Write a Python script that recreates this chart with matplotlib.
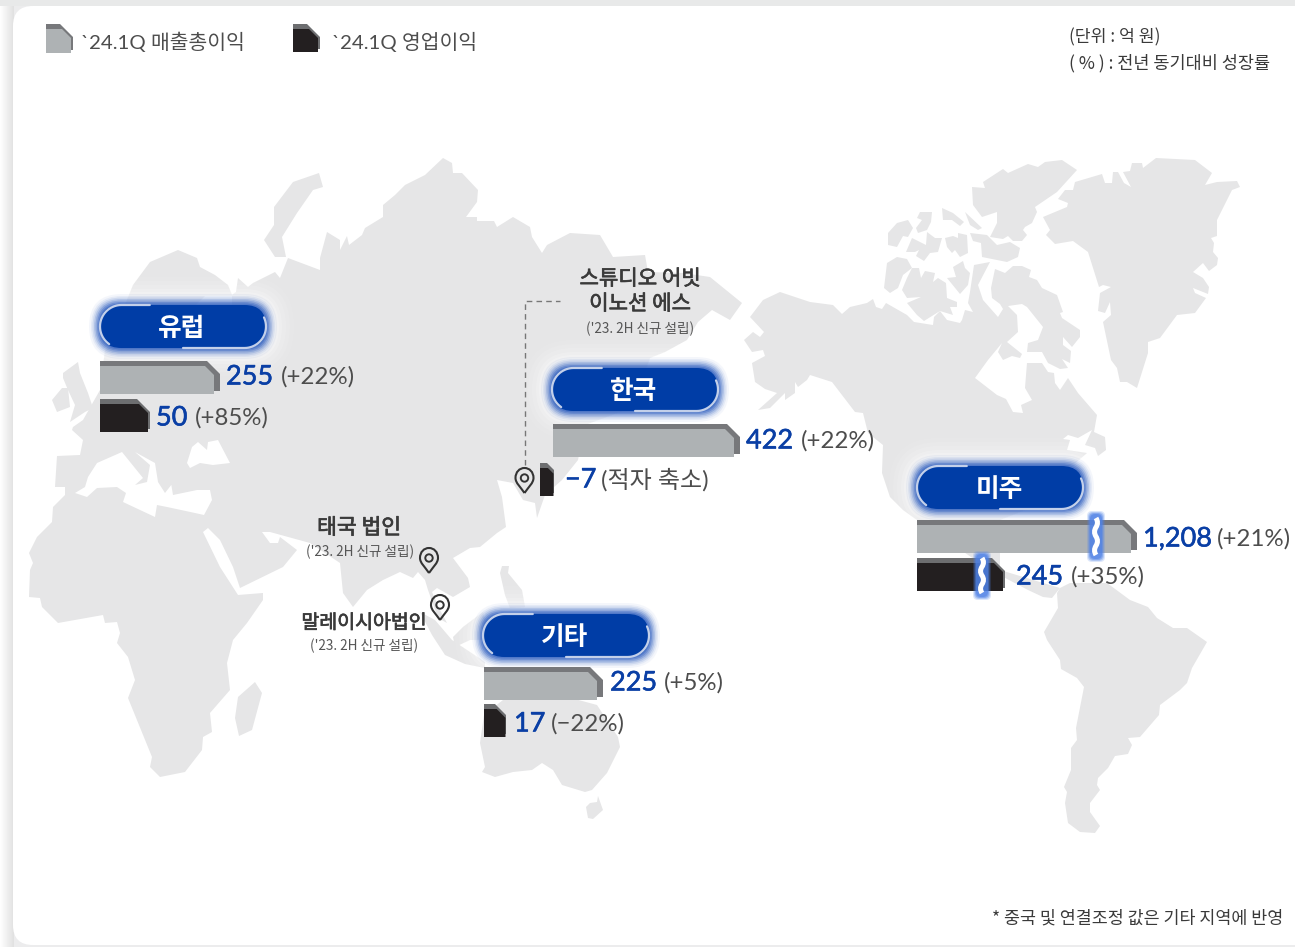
import numpy as np
import matplotlib
matplotlib.use('Agg')
import matplotlib.pyplot as plt
import matplotlib.patheffects as pe
from matplotlib.patches import FancyBboxPatch, Polygon, PathPatch, Rectangle
from matplotlib.path import Path

plt.rcParams['font.family'] = ['Noto Sans CJK KR', 'DejaVu Sans']

# ==========================================
# DATOS
# ==========================================
regions = ['유럽', '한국', '미주', '기타']
gross_profit = ['255', '422', '1,208', '225']
gross_growth = ['(+22%)', '(+22%)', '(+21%)', '(+5%)']
op_profit = ['50', '−7', '245', '17']
op_growth = ['(+85%)', '(적자 축소)', '(+35%)', '(−22%)']

# the bars in the source are not to scale (미주 is cut), lengths are read in pixels
gross_len = [120, 187, 220, 119]
op_len = [50, 14, 88, 22]

pill_x = [100, 552, 917, 483]
pill_y = [305, 368, 466, 614]
gross_bar_xy = [(100, 361), (553, 424), (917, 520), (484, 667)]
op_bar_xy = [(100, 399), (540, 463), (917, 558), (484, 704)]
gross_val_x = [226, 746, 1143, 610]
gross_pct_x = [281, 801, 1217, 664]
op_val_x = [156, 565, 1016, 514]
op_pct_x = [195, 601, 1071, 551]
gross_text_y = [376, 440, 538, 682]
op_text_y = [417, 479, 576, 723]

# ==========================================
# MAPA (contornos en pixeles)
# ==========================================
eurasia_africa = [
    (133, 285), (150, 262), (178, 250), (197, 258), (200, 267), (215, 275), (228, 285), (232, 295),
    (236, 292), (238, 278), (248, 287), (253, 283), (275, 272), (280, 278), (288, 258), (320, 270),
    (320, 258), (327, 232), (340, 240), (340, 250), (347, 236), (349, 245), (362, 235), (365, 228),
    (383, 217), (383, 205), (395, 195), (405, 185), (425, 175), (443, 158), (452, 163), (453, 173),
    (462, 173), (478, 190), (477, 202), (466, 217), (477, 217), (477, 221), (494, 221), (497, 227),
    (513, 217), (530, 227), (532, 237), (542, 253), (547, 245), (570, 233), (600, 235), (613, 257),
    (645, 255), (648, 272), (683, 273), (710, 277), (742, 303), (730, 320), (712, 310), (698, 322),
    (687, 340), (665, 352), (650, 358), (640, 385), (625, 410), (585, 425), (578, 460), (562, 480),
    (545, 495), (537, 518), (535, 503), (523, 500), (513, 483), (497, 480), (502, 497), (506, 527),
    (497, 533), (480, 547), (470, 548), (453, 558), (462, 570), (468, 578), (470, 587), (453, 597),
    (437, 588), (432, 592), (440, 610), (447, 623), (438, 618), (428, 590), (425, 580), (418, 572),
    (413, 578), (400, 572), (383, 580), (367, 590), (353, 607), (343, 593), (340, 563), (310, 543),
    (270, 532), (262, 532), (270, 543), (278, 543), (280, 537), (297, 550), (283, 567), (240, 588),
    (233, 567), (220, 540), (208, 528), (203, 532), (220, 567), (238, 595), (263, 593), (263, 600),
    (247, 623), (233, 640), (227, 663), (230, 690), (210, 713), (212, 732), (203, 737), (202, 750),
    (185, 772), (160, 777), (150, 767), (152, 757), (128, 698), (135, 680), (128, 657), (117, 643),
    (120, 633), (117, 622), (105, 623), (103, 615), (58, 623), (42, 607), (40, 598), (29, 597),
    (30, 570), (33, 563), (29, 553), (37, 537), (52, 522), (53, 507), (65, 495), (75, 493),
    (87, 497), (97, 488), (117, 487), (126, 493), (123, 502), (155, 517), (157, 505), (167, 507),
    (195, 513), (204, 515), (212, 500), (210, 490), (197, 490), (173, 495), (170, 477), (177, 472),
    (172, 484), (165, 493), (158, 482), (155, 463), (135, 452), (150, 465), (147, 482), (135, 485),
    (143, 478), (122, 452), (97, 463), (88, 477), (85, 487), (75, 493), (65, 495), (65, 487),
    (55, 487), (57, 456), (80, 455), (83, 440), (72, 430), (73, 427), (83, 420), (100, 390),
    (105, 350), (118, 340), (125, 305),
]
black_sea = [(187, 463), (192, 447), (198, 442), (207, 450), (208, 442), (218, 440), (230, 463), (213, 465),
             (200, 463), (190, 468)]
baltic = [(205, 296), (232, 296), (232, 310), (200, 330), (190, 310)]
britain = [(63, 378), (63, 373), (78, 362), (80, 373), (88, 393), (93, 408), (85, 412), (70, 422), (75, 405), (68, 390)]
ireland = [(52, 400), (62, 388), (68, 388), (70, 407), (57, 412)]
novaya = [(293, 182), (319, 173), (323, 187), (313, 190), (297, 213), (282, 237), (286, 257), (275, 257),
          (264, 240), (274, 225), (274, 207)]
madagascar = [(238, 697), (255, 682), (262, 693), (252, 730), (239, 736), (235, 718)]
sumatra = [(420, 612), (435, 620), (452, 640), (470, 652), (485, 662), (485, 668), (465, 664), (445, 655), (432, 635)]
borneo = [(463, 627), (483, 612), (490, 640), (470, 640), (455, 647), (453, 637)]
philippines = [(500, 573), (502, 566), (509, 566), (508, 573), (522, 590), (525, 607), (510, 608), (505, 595)]
australia = [(480, 743), (485, 767), (482, 772), (495, 777), (513, 772), (532, 770), (542, 763), (553, 770),
             (562, 785), (585, 792), (592, 790), (607, 773), (620, 747), (618, 737), (597, 705), (560, 695),
             (503, 700), (484, 715)]
tasmania = [(586, 807), (590, 803), (597, 802), (598, 796), (603, 810), (593, 819), (588, 818)]
north_america = [
    (750, 317), (763, 300), (780, 292), (810, 302), (833, 305), (842, 314), (850, 307), (867, 303),
    (873, 299), (876, 307), (882, 309), (886, 303), (907, 315), (914, 322), (933, 325), (934, 317),
    (940, 311), (947, 320), (960, 323), (962, 320), (965, 310), (973, 312), (968, 303), (970, 292),
    (974, 265), (990, 262), (978, 285), (983, 300), (998, 317), (1003, 309), (1000, 304), (992, 298),
    (991, 288), (995, 269), (1005, 273), (1013, 266), (1022, 266), (1031, 270), (1029, 277), (1037, 280),
    (1042, 288), (1057, 295), (1063, 312), (1060, 313), (1062, 318), (1080, 330), (1080, 337), (1072, 347),
    (1063, 337), (1063, 345), (1071, 351), (1070, 363), (1062, 359), (1068, 368), (1060, 369), (1048, 363),
    (1042, 352), (1027, 352), (1028, 343), (1038, 340), (1043, 327), (1027, 307), (1022, 304), (1008, 306),
    (1017, 315), (1018, 332), (1007, 342), (1022, 354), (1020, 358), (1012, 356), (1003, 360), (998, 352),
    (1002, 343), (988, 360), (975, 378), (997, 395), (1006, 399), (1013, 412), (1023, 413), (1021, 405),
    (1032, 400), (1025, 388), (1027, 363), (1042, 363), (1048, 372), (1054, 373), (1055, 383), (1060, 390),
    (1068, 378), (1078, 393), (1097, 415), (1094, 432), (1105, 437), (1106, 450), (1098, 456), (1095, 448),
    (1085, 445), (1092, 430), (1078, 438), (1068, 435), (1063, 439), (1070, 440), (1067, 450), (1087, 453),
    (1073, 465), (1068, 468), (1063, 465), (1067, 458), (1062, 470), (1050, 500), (1000, 520), (1000, 570),
    (1010, 573), (1060, 588), (1052, 598), (1043, 597), (1028, 590), (990, 570), (917, 520), (903, 510),
    (890, 497), (882, 473), (883, 445), (868, 433), (863, 413), (855, 412), (832, 382), (810, 375),
    (807, 380), (798, 387), (795, 382), (795, 393), (785, 400), (785, 393), (770, 408), (758, 410),
    (777, 393), (765, 389), (755, 382), (752, 363), (765, 356), (763, 350), (752, 352), (744, 340),
    (753, 332), (760, 337), (764, 332),
]
ellesmere = [(972, 187), (985, 188), (983, 182), (1003, 169), (1008, 173), (1028, 164), (1038, 167), (1045, 162),
             (1062, 160), (1077, 170), (1057, 192), (1035, 207), (1037, 212), (1032, 223), (1025, 227), (1023, 230),
             (1027, 235), (1022, 241), (1013, 241), (1008, 236), (1003, 239), (990, 237), (997, 223), (997, 212),
             (982, 217), (973, 205)]
devon = [(970, 233), (987, 235), (990, 238), (997, 245), (1010, 242), (1020, 248), (1018, 257), (1007, 262),
         (987, 258), (982, 257), (981, 243), (973, 241)]
isl_a = [(965, 212), (982, 228), (978, 230), (970, 225)]
isl_b = [(942, 208), (953, 213), (964, 222), (960, 226), (952, 220), (943, 220)]
isl_c = [(917, 218), (920, 212), (932, 212), (931, 222), (927, 230), (918, 233), (916, 228), (922, 220)]
isl_d = [(888, 233), (897, 223), (908, 220), (913, 228), (908, 237), (903, 236), (897, 247), (888, 245)]
isl_e = [(912, 238), (926, 245), (927, 232), (935, 238), (942, 238), (938, 252), (930, 253), (924, 261),
         (916, 256), (919, 250), (915, 252), (906, 252)]
isl_f = [(945, 238), (953, 236), (958, 238), (958, 233), (967, 235), (968, 253), (960, 257), (955, 250),
         (952, 253), (947, 247)]
isl_g = [(887, 263), (897, 257), (907, 259), (912, 268), (903, 275), (898, 288), (890, 293), (884, 288)]
victoria = [(907, 278), (912, 268), (919, 268), (921, 278), (925, 271), (935, 273), (933, 282), (938, 278),
            (946, 283), (947, 298), (957, 302), (957, 307), (950, 307), (953, 315), (940, 311), (924, 321),
            (917, 315), (907, 303), (921, 297), (907, 298), (902, 290)]
isl_h = [(953, 267), (963, 261), (965, 268), (970, 273), (968, 285), (960, 294), (947, 278), (956, 277)]
greenland = [(1043, 217), (1067, 207), (1068, 203), (1058, 199), (1065, 190), (1073, 190), (1075, 182), (1102, 174),
             (1105, 183), (1112, 183), (1113, 172), (1118, 172), (1124, 183), (1131, 187), (1123, 172), (1130, 171),
             (1132, 163), (1142, 163), (1143, 168), (1156, 158), (1195, 160), (1212, 173), (1205, 185), (1217, 182),
             (1237, 181), (1240, 187), (1232, 190), (1217, 220), (1217, 236), (1211, 238), (1214, 243), (1213, 252),
             (1218, 258), (1217, 265), (1209, 271), (1203, 263), (1193, 272), (1203, 278), (1209, 287), (1208, 294),
             (1193, 288), (1195, 293), (1206, 298), (1195, 313), (1177, 315), (1160, 338), (1148, 342), (1148, 353),
             (1137, 388), (1127, 382), (1120, 382), (1117, 368), (1111, 360), (1103, 322), (1111, 315), (1110, 302),
             (1105, 313), (1098, 311), (1100, 293), (1111, 287), (1103, 285), (1099, 287), (1088, 252), (1073, 241),
             (1055, 244), (1046, 235), (1050, 230)]
south_america = [(1060, 588), (1070, 583), (1107, 583), (1130, 600), (1148, 607), (1157, 618), (1173, 628), (1187, 628),
                 (1207, 642), (1192, 668), (1187, 683), (1180, 690), (1160, 705), (1159, 715), (1140, 737), (1128, 738),
                 (1132, 745), (1128, 754), (1115, 756), (1108, 768), (1098, 778), (1097, 785), (1100, 790), (1090, 803),
                 (1090, 812), (1100, 826), (1095, 833), (1080, 832), (1068, 823), (1065, 803), (1067, 792), (1064, 787),
                 (1071, 770), (1071, 748), (1077, 740), (1076, 728), (1084, 687), (1077, 678), (1061, 669), (1060, 660),
                 (1047, 640), (1044, 632), (1058, 608), (1057, 593)]

land = [eurasia_africa, britain, ireland, novaya, madagascar, sumatra, borneo, philippines, australia, tasmania,
        north_america, ellesmere, devon, isl_a, isl_b, isl_c, isl_d, isl_e, isl_f, isl_g, victoria, isl_h,
        greenland, south_america]
water = [black_sea, baltic]

LAND = '#e6e6e7'
BLUE = '#003da6'
VALUE_BLUE = '#0a3fa5'
TEXT = '#3a3a3a'
SOFT = '#4d4d4d'
LATIN = ['Lato', 'Noto Sans CJK KR']
THICK = [pe.withStroke(linewidth=0.5, foreground=TEXT)]
THICK_BLUE = [pe.withStroke(linewidth=0.4, foreground=VALUE_BLUE)]

# ==========================================
# FIGURA
# ==========================================
fig = plt.figure(figsize=(12.95, 9.47), dpi=100, facecolor='#ececed')
ax = fig.add_axes([0, 0, 1, 1])

# sombra del lado izquierdo y tarjeta blanca
shade = np.linspace(1.0, 0.88, 64).reshape(1, -1)
ax.imshow(shade, extent=(0, 14, 947, 0), cmap='gray', vmin=0, vmax=1, aspect='auto', zorder=0)
ax.add_patch(Rectangle((0, 0), 1295, 6, fc='#e8e9e9', ec='none', zorder=0.5))
ax.set_xlim(0, 1295)
ax.set_ylim(947, 0)
ax.axis('off')
ax.add_patch(FancyBboxPatch((13 + 20, 6 + 20), 1400, 899, boxstyle='round,pad=20,rounding_size=20',
                            fc='white', ec='none', zorder=1))

for poly in land:
    ax.add_patch(Polygon(poly, closed=True, fc=LAND, ec='none', zorder=2))
for poly in water:
    ax.add_patch(Polygon(poly, closed=True, fc='white', ec='none', zorder=2.1))


def rounded(x, y, w, h, pad, **kw):
    r = h / 2 + pad
    return FancyBboxPatch((x + h / 2, y + h / 2), w - h, 0.01,
                          boxstyle=f'round,pad={r},rounding_size={r}', **kw)


def draw_pill(x, y, label, w=166, h=43):
    # halo blanco que borra el mapa y halo azul
    for pad, a in [(28, 0.07), (24, 0.09), (20, 0.12), (16, 0.17), (13, 0.22), (10, 0.3)]:
        ax.add_patch(rounded(x, y, w, h, pad, fc='white', ec='none', alpha=a, zorder=3))
    for pad, a in [(11, 0.05), (9, 0.08), (7.5, 0.12), (6, 0.18), (4.5, 0.25), (3, 0.35), (1.5, 0.45)]:
        ax.add_patch(rounded(x, y, w, h, pad, fc='#2f5fc0', ec='none', alpha=a, zorder=3.1))
    ax.add_patch(rounded(x, y, w, h, 0, fc=BLUE, ec='none', zorder=3.2))
    # el borde claro solo se ve a la izquierda arriba y a la derecha abajo
    r = h / 2
    t = np.radians(np.arange(125, 271, 5))
    lx = np.r_[x + r + r * np.cos(t), x + w * 0.3]
    ly = np.r_[y + r + r * np.sin(t), y]
    ax.plot(lx, ly, color='#c3d0ea', lw=1.6, solid_capstyle='round', zorder=3.3)
    t = np.radians(np.arange(90, -26, -5))
    rx = np.r_[x + w * 0.5, x + w - r + r * np.cos(t)]
    ry = np.r_[y + h, y + r + r * np.sin(t)]
    ax.plot(rx, ry, color='#c3d0ea', lw=1.6, solid_capstyle='round', zorder=3.3)
    ax.text(x + w / 2 - 1, y + h / 2 + 1.5, label, color='white', fontsize=18.5, fontweight='bold',
            ha='center', va='center', zorder=3.4)


def draw_bar(x, y, length, back, front, inset, h=28, zorder=4):
    cut_back = min(13, length * 0.5)
    cut_front = min(9, length * 0.4)
    back_pts = [(x, y), (x + length - cut_back, y), (x + length, y + cut_back), (x + length, y + h + 2), (x, y + h + 2)]
    fw = length - inset
    front_pts = [(x, y + 5), (x + fw - cut_front, y + 5), (x + fw, y + 5 + cut_front), (x + fw, y + h + 5), (x, y + h + 5)]
    ax.add_patch(Polygon(back_pts, closed=True, fc=back, ec='none', zorder=zorder))
    ax.add_patch(Polygon(front_pts, closed=True, fc=front, ec='none', zorder=zorder + 0.1))


def draw_break(cx, y0, y1):
    for pad, a in [(8, 0.2), (7, 0.3), (6, 0.45), (5, 0.6)]:
        ax.add_patch(FancyBboxPatch((cx - 1, y0 + 1), 2, y1 - y0 - 2, boxstyle=f'round,pad={pad},rounding_size=5',
                                    fc='#4f82e6', ec='none', alpha=a, zorder=5))
    step = (y1 - y0) / 4
    verts = [(cx, y0), (cx + 3, y0 + step / 2), (cx, y0 + step), (cx - 3, y0 + 1.5 * step), (cx, y0 + 2 * step),
             (cx + 3, y0 + 2.5 * step), (cx, y0 + 3 * step), (cx - 3, y0 + 3.5 * step), (cx, y1)]
    codes = [Path.MOVETO] + [Path.CURVE3] * 8
    ax.add_patch(PathPatch(Path(verts, codes), fc='none', ec='white', lw=3.6, zorder=5.2))


def draw_pin(cx, cy):
    # cy es el centro del circulo; la punta queda 15 px abajo
    r = 9
    verts = [(cx, cy + 15), (cx - 4, cy + 9), (cx - r, cy + 5), (cx - r, cy), (cx - r, cy - 6), (cx - 5, cy - r - 1),
             (cx, cy - r - 1), (cx + 5, cy - r - 1), (cx + r, cy - 6), (cx + r, cy), (cx + r, cy + 5), (cx + 4, cy + 9),
             (cx, cy + 15)]
    codes = [Path.MOVETO] + [Path.CURVE4] * 12
    ax.add_patch(PathPatch(Path(verts, codes), fc='none', ec='#333333', lw=1.5, zorder=6))
    ax.add_patch(plt.Circle((cx, cy), 3.7, fc='none', ec='#333333', lw=1.4, zorder=6))


# ==========================================
# REGIONES
# ==========================================
for i, name in enumerate(regions):
    draw_pill(pill_x[i], pill_y[i], name)
    x, y = gross_bar_xy[i]
    draw_bar(x, y, gross_len[i], '#77787b', '#aeb2b4', 6)
    x, y = op_bar_xy[i]
    draw_bar(x, y, op_len[i], '#6d6e70', '#231f20', 2 if op_len[i] > 30 else 0.5)
    ax.text(gross_val_x[i], gross_text_y[i] + 1, gross_profit[i], color=VALUE_BLUE, fontsize=19.5, path_effects=THICK_BLUE,
            family=LATIN, ha='left', va='center', zorder=7)
    ax.text(gross_pct_x[i], gross_text_y[i] + 1, gross_growth[i], color=SOFT, fontsize=17.3,
            family=LATIN, ha='left', va='center', zorder=7)
    ax.text(op_val_x[i], op_text_y[i] + 1, op_profit[i], color=VALUE_BLUE, fontsize=19.5, path_effects=THICK_BLUE,
            family=LATIN, ha='left', va='center', zorder=7)
    ax.text(op_pct_x[i], op_text_y[i] + 1, op_growth[i], color=SOFT, fontsize=17.3,
            family=LATIN, ha='left', va='center', zorder=7)

draw_break(1096, 518, 555)
draw_break(982, 558, 593)

# ==========================================
# LEYENDA Y NOTAS
# ==========================================
draw_bar(46, 24, 27, '#77787b', '#aeb2b4', 2, h=24)
draw_bar(293, 24, 27, '#6d6e70', '#231f20', 2, h=23)
ax.text(81, 42, '`24.1Q 매출총이익', color=SOFT, fontsize=14.7, family=LATIN, ha='left', va='center', zorder=7)
ax.text(332, 42, '`24.1Q 영업이익', color=SOFT, fontsize=14.7, family=LATIN, ha='left', va='center', zorder=7)
ax.text(1069, 37, '(단위 : 억 원)', color=TEXT, fontsize=12.4, ha='left', va='center', zorder=7)
ax.text(1069, 63, '( % ) : 전년 동기대비 성장률', color=TEXT, fontsize=12.6, ha='left', va='center', zorder=7)
ax.text(1283, 919, '* 중국 및 연결조정 값은 기타 지역에 반영', color=TEXT, fontsize=12.5, ha='right', va='center', zorder=7)

# filiales
ax.text(640, 279, '스튜디오 어빗', color=TEXT, fontsize=15.2, path_effects=THICK, ha='center', va='center', zorder=7)
ax.text(640, 304, '이노션 에스', color=TEXT, fontsize=15.2, path_effects=THICK, ha='center', va='center', zorder=7)
ax.text(359, 528, '태국 법인', color=TEXT, fontsize=15.5, path_effects=THICK, ha='center', va='center', zorder=7)
ax.text(364, 623, '말레이시아법인', color=TEXT, fontsize=14, path_effects=THICK, ha='center', va='center', zorder=7)
for cx, cy in [(640, 329), (360, 552), (364, 646)]:
    ax.text(cx, cy, "('23. 2H 신규 설립)", color='#555555', fontsize=9.8, ha='center', va='center', zorder=7)

ax.plot([525, 525, 560], [465, 301, 301], color='#777777', lw=1, ls=(0, (4, 3)), zorder=5)
draw_pin(524.5, 478)
draw_pin(429, 558)
draw_pin(440, 605)

plt.savefig('out.png', dpi=100, facecolor=fig.get_facecolor())
